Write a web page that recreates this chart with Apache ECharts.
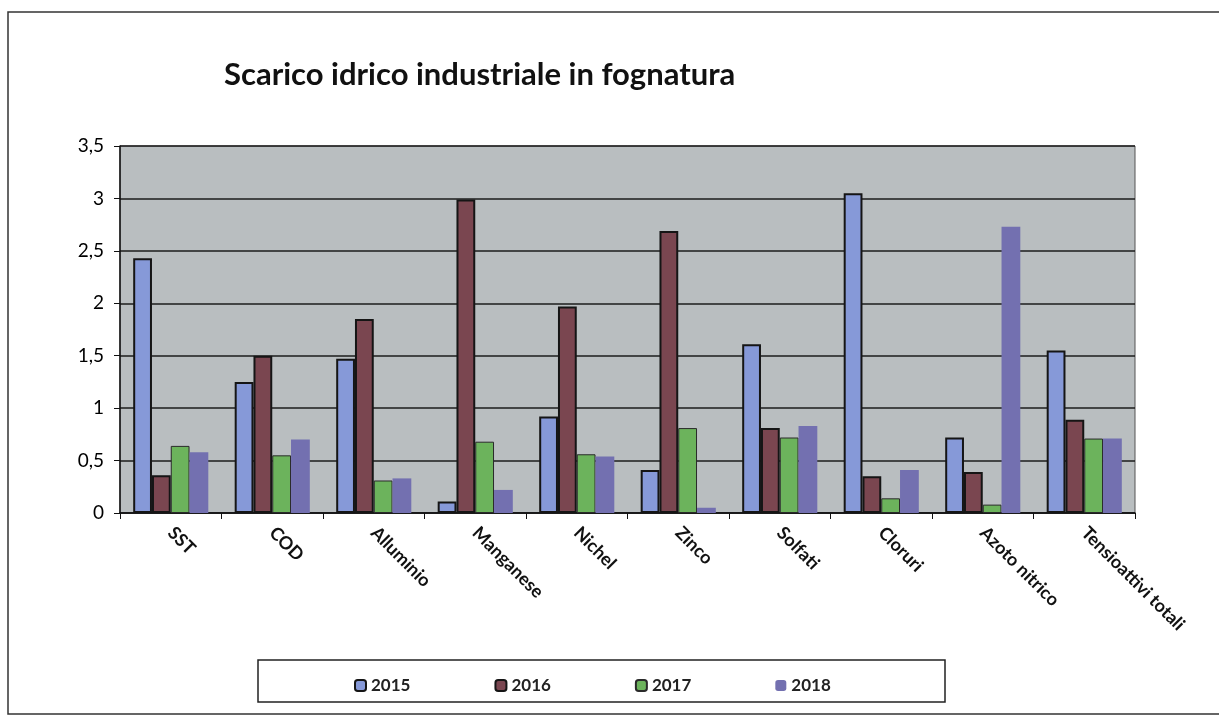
<!DOCTYPE html>
<html>
<head>
<meta charset="utf-8">
<script src="https://cdn.jsdelivr.net/npm/echarts@6/dist/echarts.min.js"></script>
<style>
html,body{margin:0;padding:0;background:#fff;}
#c{width:1219px;height:717px;}
</style>
</head>
<body>
<div id="c"></div>
<script>
const categories = ['SST','COD','Alluminio','Manganese','Nichel','Zinco','Solfati','Cloruri','Azoto nitrico','Tensioattivi totali'];
const seriesNames = ['2015','2016','2017','2018'];
const v2015 = [2.43, 1.25, 1.47, 0.11, 0.92, 0.41, 1.61, 3.05, 0.72, 1.55];
const v2016 = [0.36, 1.50, 1.85, 2.99, 1.97, 2.69, 0.81, 0.35, 0.39, 0.89];
const v2017 = [0.64, 0.55, 0.31, 0.68, 0.56, 0.81, 0.72, 0.14, 0.08, 0.71];
const v2018 = [0.58, 0.70, 0.33, 0.22, 0.54, 0.05, 0.83, 0.41, 2.73, 0.71];
const yTicks = {min: 0, max: 3.5, interval: 0.5};

const colors = ['#8699d8', '#7a4650', '#6cb35c', '#7370b0'];
const borders = ['#151515', '#151515', '#2a2a2a', null];
const borderW = [2, 2, 1, 0];
const values = [v2015, v2016, v2017, v2018];

const chart = echarts.init(document.getElementById('c'), null, {renderer: 'canvas'});
const font = 'Lato, "Open Sans", sans-serif';

chart.setOption({
  animation: false,
  backgroundColor: '#ffffff',
  title: {
    text: 'Scarico idrico industriale in fognatura',
    left: 219, top: 54,
    textStyle: {fontFamily: font, fontWeight: 'bold', fontSize: 31, color: '#111'}
  },
  graphic: [
    {type: 'rect', shape: {x: 8, y: 12, width: 1240, height: 702}, style: {fill: 'none', stroke: '#333', lineWidth: 1.5}, z: -1},
    {type: 'rect', shape: {x: 258, y: 660, width: 687, height: 42}, style: {fill: '#fff', stroke: '#222', lineWidth: 1.5}, z: 0}
  ],
  legend: {
    data: seriesNames,
    left: 349, top: 672,
    itemGap: 84,
    itemWidth: 11, itemHeight: 11,
    textStyle: {fontFamily: font, fontSize: 17, fontWeight: 'bold', color: '#222'},
    z: 5
  },
  grid: {
    left: 120, top: 146, right: 84, bottom: 204,
    show: true, backgroundColor: '#b9bec0', borderColor: '#555', borderWidth: 1
  },
  xAxis: {
    type: 'category',
    data: categories,
    axisLine: {lineStyle: {color: '#111', width: 1.5}},
    axisTick: {show: true, length: 6, lineStyle: {color: '#111'}},
    axisLabel: {rotate: -45, fontFamily: font, fontSize: 18, fontWeight: 'bold', color: '#111', margin: 17, interval: 0}
  },
  yAxis: {
    type: 'value',
    min: yTicks.min, max: yTicks.max, interval: yTicks.interval,
    axisLine: {show: true, lineStyle: {color: '#111', width: 1.5}},
    axisTick: {show: true, length: 6, lineStyle: {color: '#111'}},
    axisLabel: {fontFamily: font, fontSize: 19, color: '#000', margin: 16,
      formatter: v => String(v).replace('.', ',')},
    splitLine: {lineStyle: {color: '#1c1c1c', width: 1.5}}
  },
  series: seriesNames.map((n, i) => ({
    name: n,
    type: 'bar',
    data: values[i],
    barGap: '0%',
    barCategoryGap: '26%',
    itemStyle: {
      color: colors[i],
      borderColor: borders[i] || colors[i],
      borderWidth: borderW[i]
    }
  }))
});
</script>
</body>
</html>
